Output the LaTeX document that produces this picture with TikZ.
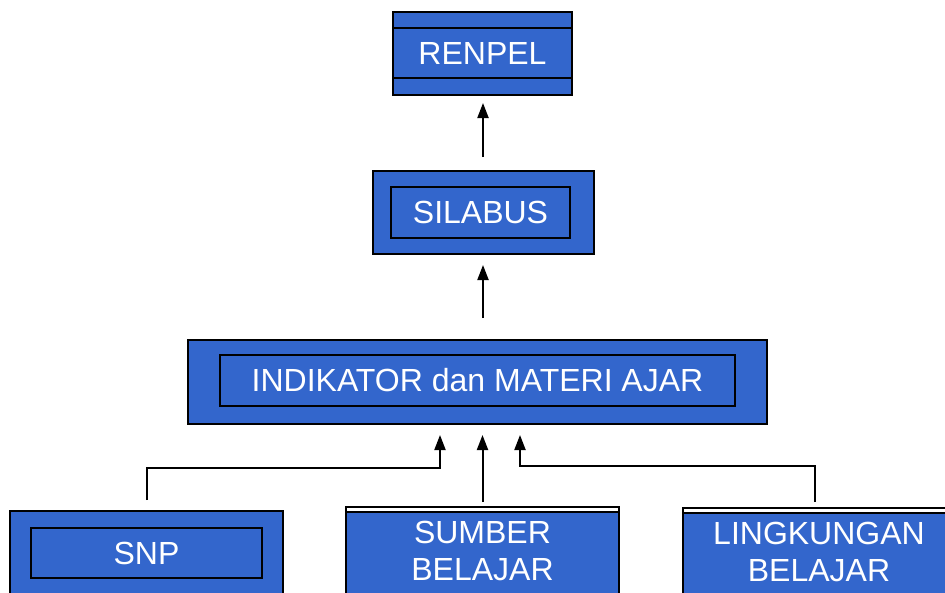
\documentclass[tikz,border=0pt]{standalone}
\usepackage{xcolor}
\usepackage{fontspec}
\setmainfont{Liberation Sans}
\usepackage{tikz}
\usetikzlibrary{positioning, arrows.meta}
\definecolor{boxblue}{HTML}{3366CC}

\tikzset{
  outerbox/.style={draw=black, fill=boxblue, line width=2pt, outer sep=0pt, inner sep=0pt},
  innerbox/.style={draw=black, line width=2pt, outer sep=0pt, inner sep=0pt,
    text=white, font=\fontsize{32}{37}\selectfont},
  uparrow/.style={line width=2pt, -{Triangle[length=15pt, width=11pt]}}
}

\begin{document}
\begin{tikzpicture}[x=1pt, y=-1pt]
    \useasboundingbox (0,0) rectangle (945,592);
    \clip (0,0) rectangle (945,592);
    \fill[white] (0,0) rectangle (945,592);

    % top level
    \node[outerbox, minimum width=179, minimum height=83] (renpel) at (482.5,53.5) {};
    \node[innerbox, minimum width=179, minimum height=50] (renpeltxt) at (482.5,53) {RENPEL};

    % middle levels
    \node[outerbox, minimum width=221, minimum height=83] (silabus) at (483.5,212.5) {};
    \node[innerbox, minimum width=179, minimum height=51] (silabustxt) at (480.5,212.5) {SILABUS};

    \node[outerbox, minimum width=579, minimum height=84] (indikator) at (477.5,382) {};
    \node[innerbox, minimum width=515, minimum height=51] (indikatortxt) at (477.5,380.5) {INDIKATOR dan MATERI AJAR};

    % bottom row
    \node[outerbox, minimum width=273, minimum height=120] (snp) at (146.5,571) {};
    \node[innerbox, minimum width=231, minimum height=50] (snptxt) at (146.5,553) {SNP};

    \draw[line width=2pt, fill=white] (346,507) rectangle (619,620);
    \node[outerbox, minimum width=273, minimum height=108, anchor=north] (sumber) at (482.5,512) {};
    \node[text=white, align=center, font=\fontsize{32}{37}\selectfont] (sumbertxt) at (482.5,551) {SUMBER\\BELAJAR};

    \draw[line width=2pt, fill=white] (683,508) rectangle (947,620);
    \node[outerbox, minimum width=264, minimum height=107, anchor=north] (lingkungan) at (815,513) {};
    \node[text=white, align=center, font=\fontsize{32}{37}\selectfont] (lingkungantxt) at (819,552) {LINGKUNGAN\\BELAJAR};

    % connectors
    \coordinate (spine) at (483,0);
    \coordinate (joinl) at (440,468);
    \coordinate (joinr) at (520,466);
    \draw[uparrow, shorten >=11pt] ([yshift=11pt]snp.north) |- (joinl) -- (joinl |- indikator.south);
    \draw[uparrow, shorten >=11pt, shorten <=15pt] ([yshift=-5pt]sumber.north) -- (sumber.north |- indikator.south);
    \draw[uparrow, shorten >=11pt] ([yshift=11pt]lingkungan.north) |- (joinr) -- (joinr |- indikator.south);

    \draw[uparrow, shorten <=22pt, shorten >=11pt] (spine |- indikator.north) -- (spine |- silabus.south);
    \draw[uparrow, shorten <=14pt, shorten >=8pt] (spine |- silabus.north) -- (spine |- renpel.south);
  \end{tikzpicture}
\end{document}
